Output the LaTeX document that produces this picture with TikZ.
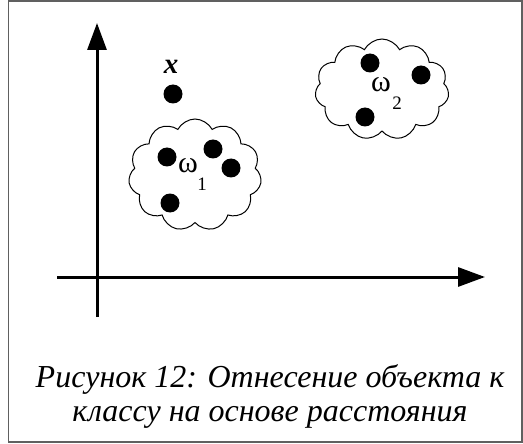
\documentclass[tikz,border=0pt]{standalone}
\usepackage{fontspec}
\setmainfont{Liberation Serif}
\usetikzlibrary{shapes.symbols, arrows.meta}
\begin{document}
\begin{tikzpicture}[x=1pt, y=-1pt,
  axis/.style={line width=3pt, -{Triangle[length=27pt, width=19pt]}},
  dot/.style={circle, fill=black, inner sep=0pt, minimum size=19pt},
  cls/.style={cloud, draw=black, line width=1pt, cloud puffs=11, cloud puff arc=125, inner sep=0pt},
  lbl/.style={font=\fontsize{30}{30}\selectfont, inner sep=0pt},
  sub/.style={font=\fontsize{19}{19}\selectfont, inner sep=0pt},
  captext/.style={font=\fontsize{32}{36}\selectfont\itshape, inner sep=0pt, anchor=base}]
\useasboundingbox (0,0) rectangle (523,444);
% frame
\draw[gray!75!black, line width=1.6pt] (8.5,1) rectangle (522,442);
% axes
\coordinate (o1) at (97,317);
\coordinate (ytip) at (97,23);
\coordinate (o2) at (57,277);
\coordinate (xtip) at (485,277);
\draw[axis] (o1) -- (ytip);
\draw[axis] (o2) -- (xtip);
% classes
\node[cls, minimum width=133pt, minimum height=112pt] (c1) at (195,175) {};
\node[cls, minimum width=134pt, minimum height=101pt, shape border rotate=15] (c2) at (382,89.5) {};
% new object
\node[font=\fontsize{29}{29}\selectfont\bfseries\itshape, inner sep=0pt] (xl) at (171,67) {x};
\node[dot] (x) at (173,94) {};
% points of class 1
\node[dot] (a1) at (167,157) {};
\node[dot] (a2) at (213,149) {};
\node[dot] (a3) at (231,168) {};
\node[dot] (a4) at (170,203) {};
\node[lbl] (w1) at (188,166) {ω};
\node[sub] (s1) at (202,184) {1};
% points of class 2
\node[dot] (b1) at (370,63) {};
\node[dot] (b2) at (421,75) {};
\node[dot] (b3) at (365,117) {};
\node[lbl] (w2) at (381,85) {ω};
\node[sub] (s2) at (397,103) {2};
% caption
\node[captext] (cap1) at (270,387) {Рисунок 12: Отнесение объекта к};
\node[captext] (cap2) at (270,421) {классу на основе расстояния};
\end{tikzpicture}
\end{document}
